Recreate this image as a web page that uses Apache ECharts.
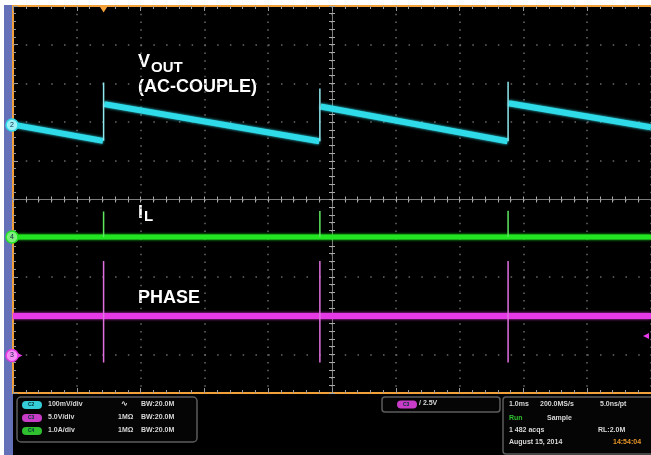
<!DOCTYPE html>
<html><head><meta charset="utf-8">
<script src="https://cdn.jsdelivr.net/npm/echarts@6/dist/echarts.min.js"></script>
<style>
html,body{margin:0;padding:0;background:#fff;}
#wrap{position:relative;width:651px;height:455px;overflow:hidden;}
#bg{position:absolute;left:13px;top:5px;width:638px;height:450px;background:#000;}
#strip{position:absolute;left:4px;top:5px;width:9px;height:450px;background:#6470b8;}
#chart{position:absolute;left:0;top:0;width:651px;height:455px;}
</style></head>
<body><div id="wrap"><div id="bg"></div><div id="strip"></div><div id="chart"></div></div>
<script>
// ---- data (time in ms, 1.0 ms/div, 10 divisions) ----
const timeRange = [0, 10];
// VOUT (AC-coupled), mV relative to the channel-2 marker
const voutRampStartT = [0, 1.43, 4.82, 7.77];
const voutRampStartV = [1, 54, 48, 56];
const voutRampEndT   = [1.41, 4.80, 7.75, 10];
const voutRampEndV   = [-41, -42, -42, -6];
const voutSpikeT     = [1.42, 4.81, 7.76];
const voutSpikeLow   = [-41, -42, -42];
const voutSpikeHigh  = [110, 94, 112];
// IL, A
const ilT       = [0, 1.42, 4.81, 7.76, 10];
const ilA       = [0, 0, 0, 0, 0];
const ilSpikeT  = [1.42, 4.81, 7.76];
const ilSpikeA  = [0.66, 0.67, 0.68];
// PHASE, V
const phaseT        = [0, 1.42, 4.81, 7.76, 10];
const phaseV        = [5.1, 5.1, 5.1, 5.1, 5.1];
const phaseSpikeT   = [1.42, 4.81, 7.76];
const phaseSpikeHi  = [12.2, 12.2, 12.2];
const phaseSpikeLo  = [-0.9, -0.9, -0.9];
const triggerTime = 1.42;
const triggerLevel = 2.5;

// channel settings: scale per division, marker position (divisions from centre)
const ch2 = {perDiv: 100, pos: 1.925};
const ch4 = {perDiv: 1, pos: -0.97};
const ch3 = {perDiv: 5, pos: -4.03};
function rng(c){ return [(-5 - c.pos) * c.perDiv, (5 - c.pos) * c.perDiv]; }
const r2 = rng(ch2), r4 = rng(ch4), r3 = rng(ch3);

const CYAN = '#2fdbe8', GREEN = '#22e622', MAG = '#e63ae6', ORANGE = '#f2a13a';
const FONT = '"Liberation Sans", Arial, sans-serif';

function ls(data, yIdx, color, width, extra) {
  return Object.assign({
    type: 'line', xAxisIndex: 0, yAxisIndex: yIdx, data: data,
    symbol: 'none', silent: true, animation: false, clip: true,
    lineStyle: {color: color, width: width, shadowBlur: width > 2 ? 3 : 0, shadowColor: color}
  }, extra || {});
}
function chMarker(num, fill, stroke) {
  return {
    silent: true, animation: false,
    data: [
      {coord: [timeRange[0], 0], symbol: 'circle', symbolSize: 12, symbolOffset: [-1, 0],
       itemStyle: {color: fill, borderColor: stroke, borderWidth: 1.5},
       label: {show: true, position: 'inside', formatter: String(num), fontSize: 7, color: '#124', fontFamily: FONT}},
      {coord: [timeRange[0], 0], symbol: 'triangle', symbolSize: [5, 5], symbolRotate: -90, symbolOffset: [7, 0],
       itemStyle: {color: stroke}, label: {show: false}}
    ]
  };
}

const series = [];
// VOUT ramps
voutRampStartT.forEach((t, i) => {
  const s = ls([[t, voutRampStartV[i]], [voutRampEndT[i], voutRampEndV[i]]], 1, CYAN, 6);
  if (i === 0) s.markPoint = chMarker(2, '#9ff3f7', CYAN);
  series.push(s);
});
voutSpikeT.forEach((t, i) => {
  series.push(ls([[t, voutSpikeLow[i]], [t, voutSpikeHigh[i]]], 1, '#8fe9ef', 1.5));
});
// IL
const ilMain = ls(ilT.map((t, i) => [t, ilA[i]]), 2, GREEN, 5);
ilMain.markPoint = chMarker(4, '#7ef07e', GREEN);
series.push(ilMain);
ilSpikeT.forEach((t, i) => {
  series.push(ls([[t, 0], [t, ilSpikeA[i]]], 2, '#5ee85e', 1.5));
});
// PHASE
const phMain = ls(phaseT.map((t, i) => [t, phaseV[i]]), 3, MAG, 6);
const pm = chMarker(3, '#f58ff5', MAG);
pm.data.push({coord: [triggerTime, r3[1]], symbol: 'triangle', symbolSize: [9, 7], symbolRotate: 180,
              symbolOffset: [0, 3], itemStyle: {color: ORANGE}, label: {show: false}});
pm.data.push({coord: [timeRange[1], triggerLevel], symbol: 'triangle', symbolSize: [6, 6], symbolRotate: 90,
              symbolOffset: [-5, 0], itemStyle: {color: MAG}, label: {show: false}});
phMain.markPoint = pm;
series.push(phMain);
phaseSpikeT.forEach((t, i) => {
  series.push(ls([[t, phaseSpikeLo[i]], [t, phaseSpikeHi[i]]], 3, '#e070e0', 1.5));
});

const gridRect = {left: 13, top: 6, width: 638, height: 387};
const dotColor = '#6a6a6a';
const tickStyle = {color: '#9a9a9a', width: 1};

function borderX(pos, split) {
  return {
    type: 'value', gridIndex: 0, min: timeRange[0], max: timeRange[1], interval: 1, position: pos,
    axisLine: {show: true, onZero: false, lineStyle: {color: ORANGE, width: 2}},
    axisTick: {show: true, inside: true, length: 5, lineStyle: tickStyle},
    minorTick: {show: true, splitNumber: 5, length: 3, lineStyle: tickStyle},
    axisLabel: {show: false},
    splitLine: {show: split, lineStyle: {color: dotColor, width: 1.5, type: [1.5, 6.24]}}
  };
}
function crossAxis(grid, inside) {
  return {
    type: 'value', gridIndex: grid, min: -5, max: 5, interval: 0.2,
    axisLine: {show: true, onZero: true, lineStyle: {color: '#7c7c7c', width: 1}},
    axisTick: {show: true, inside: inside, length: 3, lineStyle: {color: '#a8a8a8', width: 1}},
    axisLabel: {show: false}, splitLine: {show: false}
  };
}
function hiddenY(r) {
  return {type: 'value', gridIndex: 0, min: r[0], max: r[1], show: false,
          axisLine: {onZero: false}, splitLine: {show: false}};
}

function txt(left, top, text, size, color, weight) {
  return {type: 'text', left: left, top: top, silent: true,
          style: {text: text, fill: color || '#fff', font: (weight || 'bold') + ' ' + size + 'px ' + FONT}};
}
function pill(x, y, fill, label) {
  return [
    {type: 'rect', shape: {x: x, y: y, width: 20, height: 8, r: 4}, style: {fill: fill}, silent: true},
    {type: 'text', left: x + 6, top: y + 1.5, silent: true, style: {text: label, fill: '#033', font: 'bold 5px ' + FONT}}
  ];
}
const PT = '#d8d8d8';
const graphics = [
  txt(138, 53, 'V', 18), txt(151, 60.5, 'OUT', 15), txt(138, 78, '(AC-COUPLE)', 18),
  txt(138, 204, 'I', 18), txt(144, 209.5, 'L', 15),
  txt(138, 289, 'PHASE', 18),
  // left info panel
  {type: 'rect', shape: {x: 17, y: 397, width: 180, height: 45, r: 4}, style: {fill: '#050505', stroke: '#5c5c5c', lineWidth: 1.5}, silent: true},
  ...pill(22, 401, '#35cdd8', 'C2'), ...pill(22, 414, '#c83cc8', 'C3'), ...pill(22, 427, '#2fbf2f', 'C4'),
  txt(48, 401, '100mV/div', 7, PT), txt(48, 414, '5.0V/div', 7, PT), txt(48, 427, '1.0A/div', 7, PT),
  txt(121, 400, '∿', 8, PT), txt(118, 414, '1MΩ', 7, PT), txt(118, 427, '1MΩ', 7, PT),
  txt(141, 401, 'BW:20.0M', 7, PT), txt(141, 414, 'BW:20.0M', 7, PT), txt(141, 427, 'BW:20.0M', 7, PT),
  // trigger panel
  {type: 'rect', shape: {x: 382, y: 397, width: 118, height: 15, r: 3}, style: {fill: '#050505', stroke: '#5c5c5c', lineWidth: 1.5}, silent: true},
  ...pill(397, 400.5, '#c83cc8', 'C3'),
  txt(419, 400, '/ 2.5V', 7, PT),
  // acquisition panel
  {type: 'rect', shape: {x: 503, y: 397, width: 160, height: 57, r: 3}, style: {fill: '#050505', stroke: '#5c5c5c', lineWidth: 1.5}, silent: true},
  txt(509, 401, '1.0ms', 7, PT), txt(540, 401, '200.0MS/s', 7, PT), txt(600, 401, '5.0ns/pt', 7, PT),
  txt(509, 415, 'Run', 7, '#2fbf2f'), txt(547, 415, 'Sample', 7, PT),
  txt(509, 427, '1 482 acqs', 7, PT), txt(598, 427, 'RL:2.0M', 7, PT),
  txt(509, 439, 'August 15, 2014', 7, PT), txt(613, 439, '14:54:04', 7, '#e8962a')
];

const chart = echarts.init(document.getElementById('chart'), null, {renderer: 'canvas'});
chart.setOption({
  backgroundColor: 'transparent',
  animation: false,
  grid: [Object.assign({}, gridRect), Object.assign({}, gridRect), Object.assign({}, gridRect)],
  xAxis: [borderX('bottom', true), borderX('top', false), crossAxis(1, true), crossAxis(2, false)],
  yAxis: [
    {type: 'value', gridIndex: 0, min: -5, max: 5, interval: 1, position: 'left',
     axisLine: {show: true, onZero: false, lineStyle: {color: ORANGE, width: 2}},
     axisTick: {show: true, inside: true, length: 5, lineStyle: tickStyle},
     minorTick: {show: true, splitNumber: 5, length: 3, lineStyle: tickStyle},
     axisLabel: {show: false},
     splitLine: {show: true, lineStyle: {color: dotColor, width: 1.5, type: [1.5, 11.26]}}},
    hiddenY(r2), hiddenY(r4), hiddenY(r3),
    crossAxis(1, true), crossAxis(2, false)
  ],
  series: series,
  graphic: graphics
});
</script></body></html>
